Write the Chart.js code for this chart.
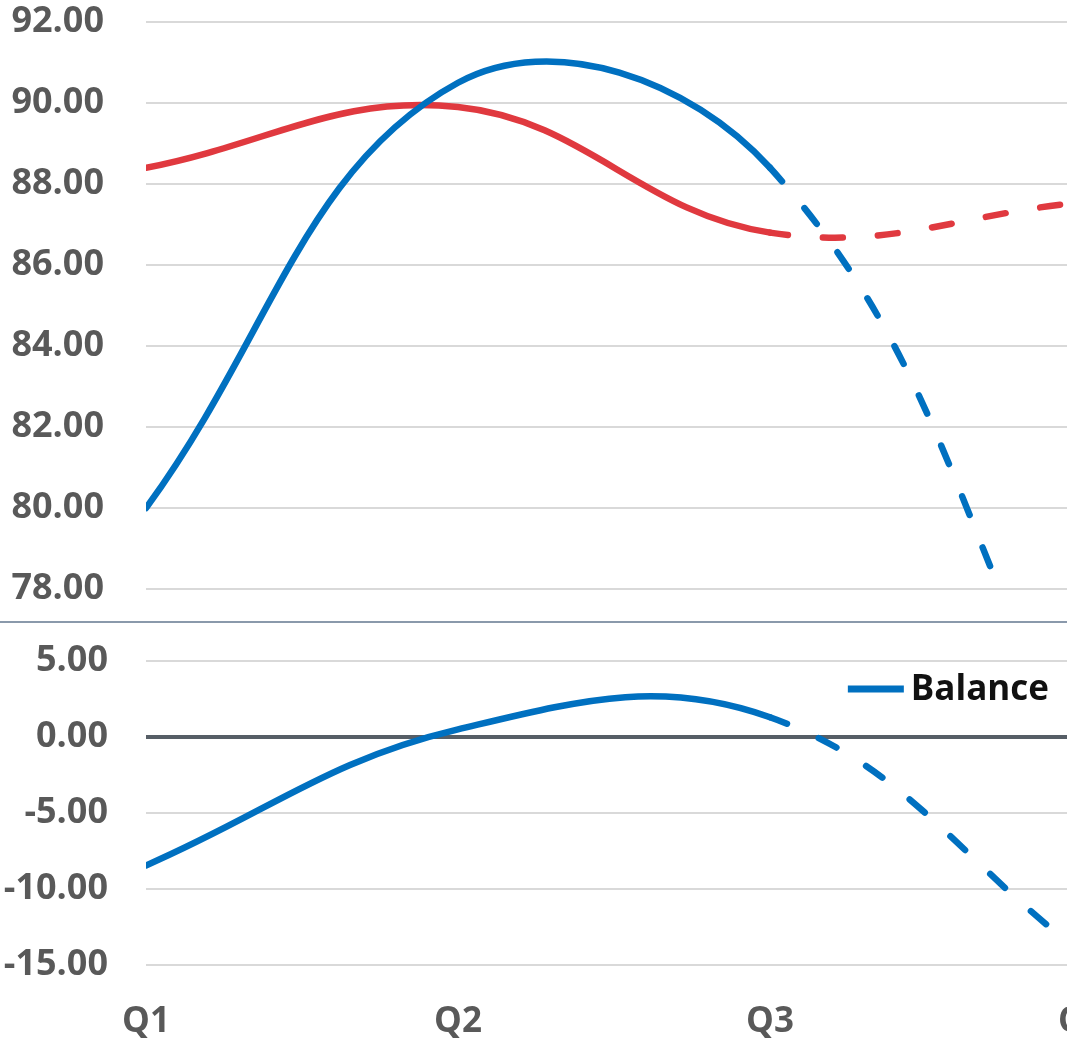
<!DOCTYPE html>
<html>
<head>
<meta charset="utf-8">
<title>Quarterly index and balance</title>
<script src="https://cdn.jsdelivr.net/npm/chart.js@4.4.1/dist/chart.umd.min.js"></script>
<style>
  html, body { margin: 0; padding: 0; background: #ffffff; overflow: hidden; }
  #frame { position: relative; width: 1067px; height: 1038px; overflow: hidden; background: #ffffff; }
  #upper { position: absolute; left: 0; top: 0; }
  #divider { position: absolute; left: 0; top: 621px; width: 1067px; height: 2px; background: #8A99AB; }
  #lower { position: absolute; left: 0; top: 623px; }
</style>
</head>
<body>
<div id="frame">
  <canvas id="upper" width="1110" height="621"></canvas>
  <div id="divider"></div>
  <canvas id="lower" width="1110" height="420"></canvas>
</div>
<script>
// Quarter labels on the shared horizontal axis
const quarters = ['Q1', 'Q2', 'Q3', 'Q4'];

// Upper panel: the two index series
const blueIndex = [80.0, 90.5, 88.4, 73.5];
const redIndex = [88.4, 89.9, 86.8, 87.55];

// Lower panel: balance between the two
const balance = [-8.45, 0.5, 1.3, -14.2];

// Tick values for each panel
const upperTicks = [78, 80, 82, 84, 86, 88, 90, 92];
const lowerTicks = [-15, -10, -5, 0, 5];

// Index of the first projected quarter; segments from here on are dashed
const projectedFrom = 2;

const BLUE = '#0070C0';
const RED = '#E0393F';
const GRID = '#D9D9D9';
const ZERO = '#565E66';
const LABEL = '#595959';
const CLEAR = 'rgba(0,0,0,0)';
const FONT = '"Open Sans", "Noto Sans", sans-serif';

const projectedSegment = {
  borderDash: ctx => ctx.p0DataIndex >= projectedFrom ? [20, 35] : undefined,
  borderDashOffset: ctx => ctx.p0DataIndex >= projectedFrom ? 2 : 0
};

function lineDataset(label, values, color) {
  return {
    label: label,
    data: values,
    borderColor: color,
    backgroundColor: color,
    borderWidth: 6.5,
    borderCapStyle: 'round',
    borderJoinStyle: 'round',
    pointRadius: 0,
    pointHoverRadius: 0,
    tension: 0.4,
    clip: 0,
    segment: projectedSegment
  };
}

// Value axis: the gap between labels and plot comes from an invisible tick mark
function valueAxis(tickValues, gap) {
  return {
    type: 'linear',
    min: Math.min(...tickValues),
    max: Math.max(...tickValues),
    afterBuildTicks: axis => { axis.ticks = tickValues.map(v => ({ value: v })); },
    afterFit: axis => { axis.width = 146; },
    border: { display: false },
    grid: {
      drawTicks: true,
      tickLength: gap,
      tickColor: CLEAR,
      color: ctx => (ctx.tick && ctx.tick.value === 0) ? ZERO : GRID,
      lineWidth: ctx => (ctx.tick && ctx.tick.value === 0) ? 4 : 2
    },
    ticks: {
      padding: 0,
      color: LABEL,
      font: { family: FONT, size: 36, weight: 'bold' },
      callback: v => Number(v).toFixed(2)
    }
  };
}

function quarterAxis(showLabels) {
  return {
    type: 'category',
    offset: false,
    display: showLabels,
    border: { display: false },
    grid: { display: true, drawOnChartArea: false, drawTicks: true, tickLength: 36, tickColor: CLEAR, color: CLEAR },
    ticks: {
      autoSkip: false,
      maxRotation: 0,
      padding: 0,
      color: LABEL,
      font: { family: FONT, size: 35, weight: 'bold' }
    }
  };
}

// Legend key drawn inside the lower plot, near its upper right corner
const balanceKey = {
  id: 'balanceKey',
  afterDraw(chart) {
    const { ctx, chartArea } = chart;
    const ds = chart.data.datasets[0];
    ctx.save();
    ctx.font = 'bold 35px ' + FONT;
    const textWidth = ctx.measureText(ds.label).width;
    const right = chartArea.right - 33;
    const baseline = chartArea.top + 39;
    const lineY = chartArea.top + 28;
    ctx.fillStyle = '#111111';
    ctx.textAlign = 'right';
    ctx.textBaseline = 'alphabetic';
    ctx.fillText(ds.label, right, baseline);
    ctx.strokeStyle = ds.borderColor;
    ctx.lineWidth = 7;
    ctx.lineCap = 'butt';
    ctx.beginPath();
    ctx.moveTo(right - textWidth - 63, lineY);
    ctx.lineTo(right - textWidth - 7, lineY);
    ctx.stroke();
    ctx.restore();
  }
};

const common = {
  responsive: false,
  animation: false,
  devicePixelRatio: 1,
  events: [],
  plugins: { legend: { display: false }, tooltip: { enabled: false } },
  elements: { line: { capBezierPoints: false } }
};

new Chart(document.getElementById('upper'), {
  type: 'line',
  data: {
    labels: quarters,
    datasets: [
      lineDataset('Blue index', blueIndex, BLUE),
      lineDataset('Red index', redIndex, RED)
    ]
  },
  options: Object.assign({}, common, {
    layout: { padding: { top: 22, right: 28, bottom: 32, left: 0 } },
    scales: {
      x: quarterAxis(false),
      y: valueAxis(upperTicks, 42)
    }
  })
});

new Chart(document.getElementById('lower'), {
  type: 'line',
  data: {
    labels: quarters,
    datasets: [lineDataset('Balance', balance, BLUE)]
  },
  options: Object.assign({}, common, {
    layout: { padding: { top: 38, right: 28, bottom: 0, left: 0 } },
    scales: {
      x: quarterAxis(true),
      y: valueAxis(lowerTicks, 38)
    }
  }),
  plugins: [balanceKey]
});
</script>
</body>
</html>
